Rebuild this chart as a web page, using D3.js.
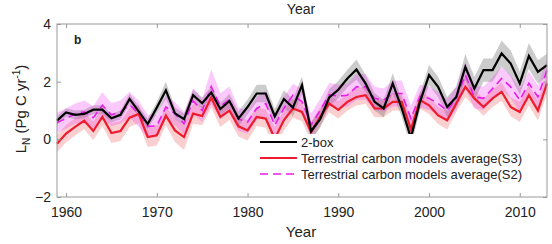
<!DOCTYPE html>
<html>
<head>
<meta charset="utf-8">
<script src="https://cdn.jsdelivr.net/npm/d3@7"></script>
<style>
  body { margin: 0; background: #fff; }
  svg { display: block; font-family: "Liberation Sans", Arial, sans-serif; }
</style>
</head>
<body>
<svg width="552" height="244"></svg>
<script>
// years 1959-2013
const years = d3.range(1959, 2014);

// 2-box model
const twoBox = [0.65, 0.93, 0.85, 0.88, 1.03, 1.03, 0.73, 0.85, 1.40, 0.97, 0.53,
  1.10, 1.70, 0.90, 0.70, 1.53, 1.25, 1.63, 1.05, 1.33, 0.72,
  1.12, 1.59, 1.59, 0.80, 1.40, 1.10, 1.88, 0.28, 0.70, 1.45,
  1.72, 2.11, 2.42, 1.94, 1.30, 1.07, 1.94, 1.07, 0.05, 1.30,
  2.23, 1.82, 1.12, 1.47, 2.51, 1.76, 2.40, 2.40, 2.98, 2.63,
  1.94, 2.89, 2.34, 2.57];
const twoBoxSpread = [0.15, 0.15, 0.15, 0.15, 0.15, 0.15, 0.15, 0.15, 0.18, 0.18, 0.18,
  0.20, 0.30, 0.20, 0.20, 0.20, 0.20, 0.20, 0.20, 0.25, 0.25,
  0.25, 0.30, 0.30, 0.25, 0.30, 0.30, 0.30, 0.30, 0.30, 0.30,
  0.30, 0.30, 0.35, 0.30, 0.30, 0.30, 0.35, 0.30, 0.30, 0.30,
  0.35, 0.35, 0.35, 0.35, 0.45, 0.40, 0.40, 0.40, 0.45, 0.45,
  0.40, 0.45, 0.40, 0.40];

// terrestrial carbon models average (S3)
const modelS3 = [-0.15, 0.20, 0.43, 0.65, 0.29, 0.78, 0.22, 0.29, 0.75, 0.88, 0.08,
  0.14, 0.82, 0.31, 0.08, 0.89, 0.81, 1.45, 0.78, 1.00, 0.45,
  0.31, 0.78, 0.72, 0.02, 0.66, 1.07, 0.95, 0.25, 0.78, 1.24,
  1.02, 1.30, 1.47, 1.53, 1.07, 1.07, 1.30, 1.30, 0.35, 1.36,
  1.18, 0.83, 0.66, 1.24, 1.82, 1.42, 1.12, 1.42, 1.65, 1.12,
  0.95, 1.53, 1.00, 1.94];
const modelS3Spread = [0.30, 0.30, 0.30, 0.30, 0.32, 0.32, 0.35, 0.35, 0.32, 0.32, 0.35,
  0.35, 0.32, 0.40, 0.45, 0.35, 0.32, 0.35, 0.35, 0.32, 0.35,
  0.35, 0.32, 0.32, 0.40, 0.35, 0.32, 0.32, 0.35, 0.32, 0.30,
  0.30, 0.30, 0.30, 0.30, 0.30, 0.30, 0.30, 0.30, 0.40, 0.30,
  0.30, 0.30, 0.32, 0.30, 0.35, 0.30, 0.30, 0.30, 0.32, 0.32,
  0.35, 0.35, 0.35, 0.35];

// terrestrial carbon models average (S2)
const modelS2 = [0.58, 0.72, 0.89, 0.95, 0.75, 1.18, 0.85, 0.95, 1.20, 0.89, 0.45,
  0.47, 1.12, 0.89, 0.55, 1.33, 1.00, 1.83, 1.15, 1.38, 0.70,
  0.60, 1.07, 1.24, 0.49, 1.07, 1.53, 1.30, 0.50, 1.00, 1.55,
  1.50, 1.53, 1.82, 1.82, 1.42, 1.36, 1.59, 1.59, 0.72, 1.50,
  1.42, 1.24, 1.00, 1.42, 2.23, 1.47, 1.42, 1.76, 2.11, 1.82,
  1.36, 1.94, 1.47, 2.40];
const modelS2Spread = [0.35, 0.35, 0.35, 0.40, 0.40, 0.45, 0.40, 0.40, 0.45, 0.45, 0.40,
  0.40, 0.40, 0.40, 0.40, 0.45, 0.40, 0.60, 0.45, 0.45, 0.40,
  0.40, 0.40, 0.45, 0.40, 0.40, 0.40, 0.45, 0.40, 0.40, 0.40,
  0.40, 0.40, 0.45, 0.45, 0.40, 0.40, 0.45, 0.45, 0.45, 0.40,
  0.40, 0.40, 0.40, 0.40, 0.45, 0.40, 0.40, 0.40, 0.40, 0.40,
  0.40, 0.40, 0.40, 0.40];

const xTicks = [1960, 1970, 1980, 1990, 2000, 2010];
const yTicks = [-2, 0, 2, 4];
const legendLabels = ["2-box", "Terrestrial carbon models average(S3)", "Terrestrial carbon models average(S2)"];

const plotLeft = 57, plotRight = 547, plotTop = 24, plotBottom = 197;

const svg = d3.select("svg");

const x = d3.scaleLinear().domain([1959, 2013]).range([plotLeft, plotRight]);
const y = d3.scaleLinear().domain([-2, 4]).range([plotBottom, plotTop]);

function rows(values, spread) {
	return years.map((yr, i) => ({ yr: yr, v: values[i], lo: values[i] - spread[i], hi: values[i] + spread[i] }));
}

const area = d3.area()
	.x(d => x(d.yr))
	.y0(d => y(d.lo))
	.y1(d => y(d.hi));

const line = d3.line()
	.x(d => x(d.yr))
	.y(d => y(d.v));

const s3 = rows(modelS3, modelS3Spread);
const s2 = rows(modelS2, modelS2Spread);
const box = rows(twoBox, twoBoxSpread);

const g = svg.append("g");

// uncertainty bands
g.append("path").datum(s3).attr("d", area).attr("fill", "rgba(240,95,95,0.3)");
g.append("path").datum(box).attr("fill", "rgba(120,120,120,0.38)").attr("d", area);
g.append("path").datum(s2).attr("fill", "rgba(240,60,240,0.28)").attr("d", area);

// lines
g.append("path").datum(s2).attr("d", line)
	.attr("fill", "none").attr("stroke", "#e81ee8").attr("stroke-width", 1.6)
	.attr("stroke-dasharray", "8,5");
g.append("path").datum(s3).attr("d", line)
	.attr("fill", "none").attr("stroke", "#ee1b2d").attr("stroke-width", 2.2);
g.append("path").datum(box).attr("d", line)
	.attr("fill", "none").attr("stroke", "#000").attr("stroke-width", 2.2);

// legend
const legend = svg.append("g");
legend.append("rect")
	.attr("x", 258).attr("y", 134).attr("width", 276).attr("height", 46)
	.attr("fill", "#fff");
const legendStyles = [
	{ stroke: "#000", width: 2.2, dash: null },
	{ stroke: "#ee1b2d", width: 2.2, dash: null },
	{ stroke: "#e81ee8", width: 1.6, dash: "8,5" },
];
legendLabels.forEach((lab, i) => {
	const ly = 142 + i * 16;
	legend.append("line")
		.attr("x1", 260).attr("x2", 297).attr("y1", ly).attr("y2", ly)
		.attr("stroke", legendStyles[i].stroke)
		.attr("stroke-width", legendStyles[i].width)
		.attr("stroke-dasharray", legendStyles[i].dash);
	legend.append("text")
		.attr("x", 301).attr("y", ly + 4.5)
		.attr("font-size", 13).attr("fill", "#222")
		.text(lab);
});

// axes box and ticks
svg.append("rect")
	.attr("x", plotLeft).attr("y", plotTop).attr("width", plotRight - plotLeft).attr("height", plotBottom - plotTop)
	.attr("fill", "none").attr("stroke", "#999").attr("stroke-width", 1);

const xb = svg.append("g").attr("transform", "translate(0," + plotBottom + ")")
	.call(d3.axisBottom(x).tickValues(xTicks).tickFormat(d3.format("d")).tickSize(-4).tickPadding(10));
const xt = svg.append("g").attr("transform", "translate(0," + plotTop + ")")
	.call(d3.axisTop(x).tickValues(xTicks).tickFormat("").tickSize(-4));
const yl = svg.append("g").attr("transform", "translate(" + plotLeft + ",0)")
	.call(d3.axisLeft(y).tickValues(yTicks).tickFormat(d3.format("d")).tickSize(-4).tickPadding(6));
const yr = svg.append("g").attr("transform", "translate(" + plotRight + ",0)")
	.call(d3.axisRight(y).tickValues(yTicks).tickFormat("").tickSize(-4));

[xb, xt, yl, yr].forEach(a => {
	a.select(".domain").remove();
	a.selectAll(".tick line").attr("stroke", "#999");
	a.selectAll(".tick text").attr("font-size", 14).attr("fill", "#222")
		.attr("font-family", "Liberation Sans, Arial, sans-serif");
});

// titles
svg.append("text").attr("x", 301).attr("y", 14).attr("text-anchor", "middle")
	.attr("font-size", 14).attr("fill", "#222").text("Year");
svg.append("text").attr("x", 301).attr("y", 237).attr("text-anchor", "middle")
	.attr("font-size", 15).attr("fill", "#222").text("Year");

svg.append("text").attr("x", 74).attr("y", 44)
	.attr("font-size", 12).attr("font-weight", "bold").attr("fill", "#222").text("b");

const ylab = svg.append("text")
	.attr("transform", "translate(26,109) rotate(-90)")
	.attr("text-anchor", "middle").attr("font-size", 15).attr("fill", "#222");
ylab.append("tspan").text("L");
ylab.append("tspan").attr("font-size", 10).attr("dy", 4).text("N");
ylab.append("tspan").attr("dy", -4).text(" (Pg C yr");
ylab.append("tspan").attr("font-size", 10).attr("dy", -6).text("-1");
ylab.append("tspan").attr("dy", 6).text(")");
</script>
</body>
</html>
